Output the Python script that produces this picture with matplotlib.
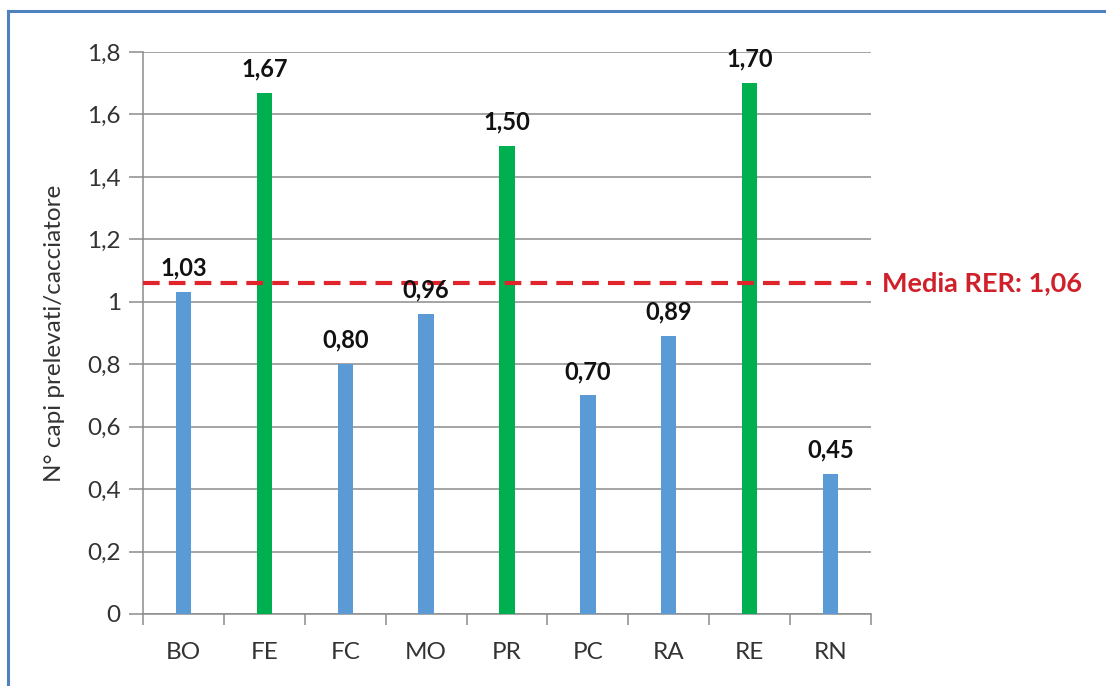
import matplotlib
matplotlib.use("Agg")
import matplotlib.pyplot as plt
from matplotlib.lines import Line2D

categories = ["BO", "FE", "FC", "MO", "PR", "PC", "RA", "RE", "RN"]
values = [1.03, 1.67, 0.80, 0.96, 1.50, 0.70, 0.89, 1.70, 0.45]
highlight = [False, True, False, False, True, False, False, True, False]
mean_value = 1.06
mean_label = "Media RER: 1,06"
y_ticks = [0, 0.2, 0.4, 0.6, 0.8, 1.0, 1.2, 1.4, 1.6, 1.8]
ylabel = "N° capi prelevati/cacciatore"

BLUE = "#5B9BD5"
GREEN = "#00B050"
RED = "#E0242C"
GRID = "#8C8C8C"

plt.rcParams['font.family'] = ['Lato', 'DejaVu Sans']

fig = plt.figure(figsize=(11.06, 6.86), dpi=100)
ax = fig.add_axes([143/1106, 1 - 614/686, (871-143)/1106, (614-52)/686])

x = list(range(len(categories)))
colors = [GREEN if h else BLUE for h in highlight]
ax.bar(x, values, width=0.19, color=colors, zorder=3)

ax.set_xlim(-0.5, len(categories) - 0.5)
ax.set_ylim(0, 1.8)

def fmt(v):
    s = f"{v:.1f}".replace(".", ",")
    if s.endswith(",0"):
        s = s[:-2]
    return s

ax.set_yticks(y_ticks)
ax.set_yticklabels([fmt(v) for v in y_ticks], fontsize=17.5, color="#333333")
ax.yaxis.grid(True, color=GRID, linewidth=1.1, zorder=0)
ax.tick_params(axis='y', length=10, color=GRID, width=1.1, pad=6)

ax.set_xticks(x)
ax.set_xticklabels(categories, fontsize=17.5, color="#333333")
ax.set_xticks([i - 0.5 for i in range(len(categories) + 1)], minor=True)
ax.tick_params(axis='x', which='major', length=0, pad=20)
ax.tick_params(axis='x', which='minor', length=8, color=GRID, width=1.1, direction='out')

for s in ["top", "right"]:
    ax.spines[s].set_visible(False)
for s in ["left", "bottom"]:
    ax.spines[s].set_color(GRID)
    ax.spines[s].set_linewidth(1.1)

for xi, v in zip(x, values):
    ax.annotate(f"{v:.2f}".replace(".", ","), (xi, v), xytext=(0, 9),
                textcoords="offset points", ha="center", va="bottom",
                fontsize=17, fontweight="bold", color="#111111", zorder=5)

ax.axhline(mean_value, color=RED, linestyle=(0, (4, 2.2)), linewidth=3, zorder=4, clip_on=False)
ax.annotate(mean_label, (1, mean_value), xycoords=("axes fraction", "data"),
            xytext=(8, 0), textcoords="offset points", ha="left", va="center",
            fontsize=19.5, fontweight="bold", color="#D0202A")

ax.set_ylabel(ylabel, fontsize=17.5, color="#333333", labelpad=16)

fig.add_artist(Line2D([8/1106, 1], [1 - 11/686, 1 - 11/686], color="#4F81BD", linewidth=2.2, transform=fig.transFigure))
fig.add_artist(Line2D([8/1106, 8/1106], [0, 1 - 11/686], color="#4F81BD", linewidth=2.2, transform=fig.transFigure))

fig.savefig("out.png", dpi=100)
